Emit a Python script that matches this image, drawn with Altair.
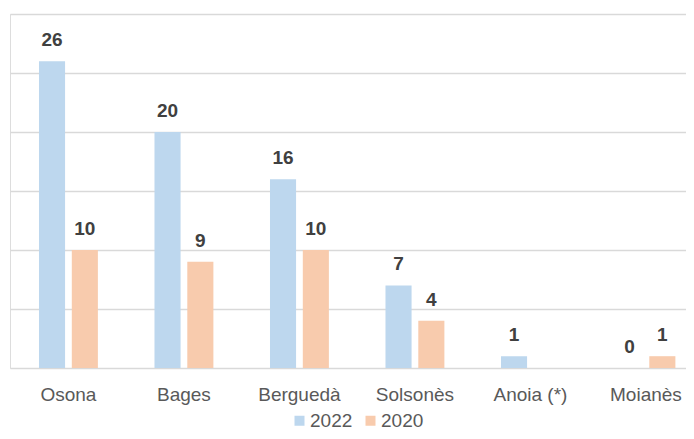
import altair as alt
import pandas as pd

categories = ["Osona", "Bages", "Berguedà", "Solsonès", "Anoia (*)", "Moianès"]
years = ["2022", "2020"]
values_2022 = [26, 20, 16, 7, 1, 0]
values_2020 = [10, 9, 10, 4, None, 1]

rows = []
for c, a, b in zip(categories, values_2022, values_2020):
    rows.append({"comarca": c, "any": "2022", "valor": a})
    rows.append({"comarca": c, "any": "2020", "valor": b})
df = pd.DataFrame(rows)

FONT = "Liberation Sans"

x = alt.X("comarca:N", sort=categories, title=None,
          scale=alt.Scale(paddingInner=0.49, paddingOuter=0.1714, align=0.732),
          axis=alt.Axis(labelAngle=0, ticks=False, domain=False, labelPadding=17,
                        labelFontSize=19, labelColor="#595959", labelFont=FONT))
xo = alt.XOffset("any:N", sort=years, scale=alt.Scale(paddingInner=0.205, paddingOuter=0))
y = alt.Y("valor:Q", title=None,
          scale=alt.Scale(domain=[0, 30], nice=False),
          axis=alt.Axis(values=[0, 5, 10, 15, 20, 25, 30], labels=False, ticks=False,
                        domain=False, grid=True, gridColor="#d9d9d9", gridWidth=1.5))
color = alt.Color("any:N", sort=years, title=None,
                  scale=alt.Scale(domain=years, range=["#bdd7ee", "#f8cbad"]),
                  legend=alt.Legend(orient="none", legendX=280, legendY=397, direction="horizontal",
                                    symbolType="square", symbolSize=100, symbolStrokeWidth=0,
                                    labelFontSize=19, labelColor="#595959", labelFont=FONT,
                                    labelOffset=1, columnPadding=8, padding=0))

bars = alt.Chart(df).mark_bar().encode(x=x, xOffset=xo, y=y, color=color)
labels = alt.Chart(df).transform_filter("isValid(datum.valor)").mark_text(
    baseline="alphabetic", dy=-15, fontSize=19, fontWeight="bold", font=FONT, color="#404040"
).encode(x=x, xOffset=xo, y=y, text=alt.Text("valor:Q"))

chart = (bars + labels).properties(
    width=676, height=354,
    autosize=alt.AutoSizeParams(type="none"),
    padding={"left": 2, "top": 6, "right": 0, "bottom": 63},
).configure_view(stroke=None).configure(background="white")

chart.save("out.html", embed_options={"renderer": "svg", "actions": False})
